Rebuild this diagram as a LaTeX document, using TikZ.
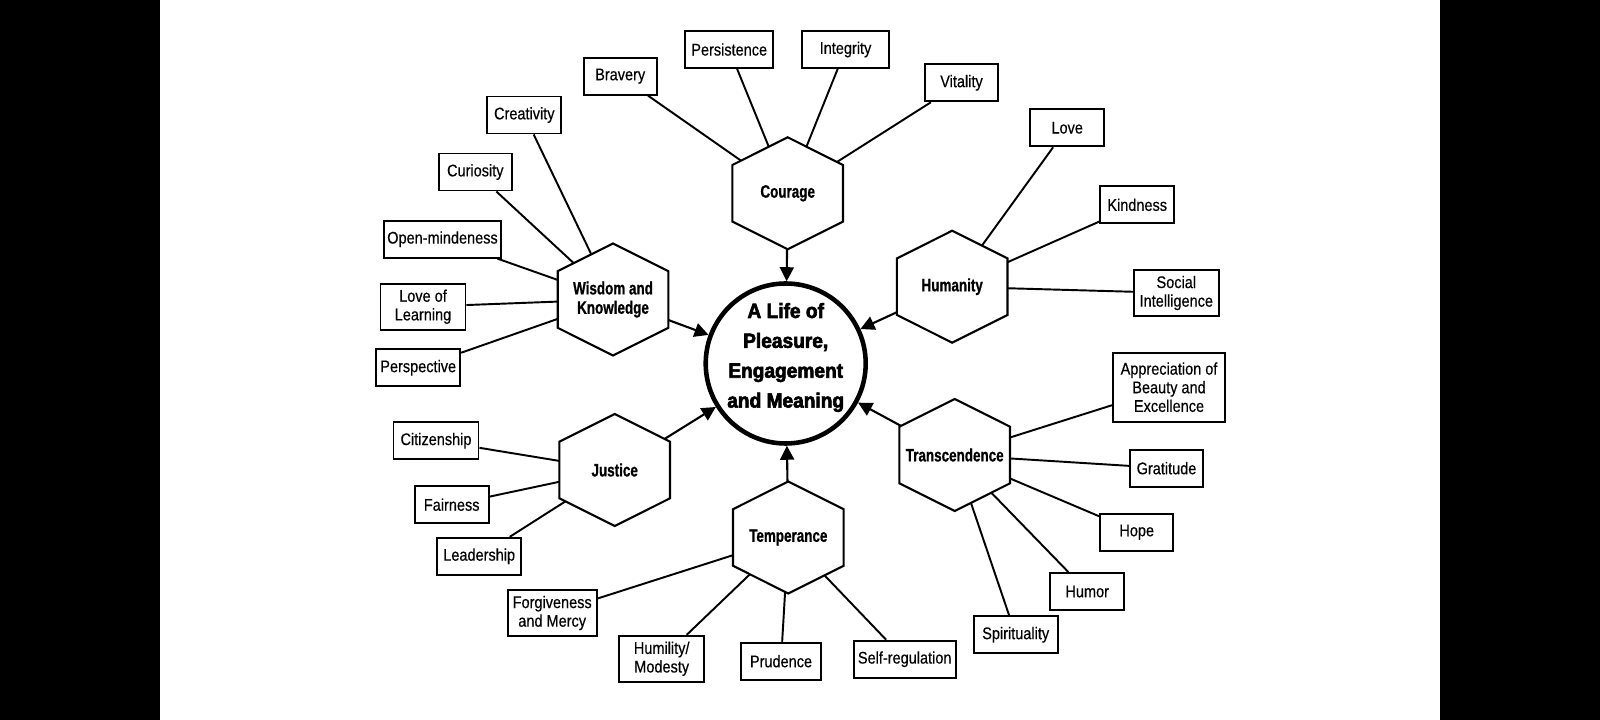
\documentclass[tikz,border=0pt]{standalone}
\usepackage{fontspec}
\usepackage{tikz}
\usetikzlibrary{positioning}
\usetikzlibrary{calc,arrows.meta}

\newfontfamily\boxfont{Liberation Sans}[FakeStretch=0.86, FakeBold=0.4]
\newfontfamily\hexfont{Liberation Sans}[FakeStretch=0.75, FakeBold=0.8]
\newfontfamily\lifefont{Liberation Sans}[FakeStretch=0.93, FakeBold=3]

\tikzset{
	strength/.style={draw, line width=0.55pt, rectangle, inner sep=0pt, align=center,
		minimum height=0.37cm, font=\boxfont\fontsize{4.8}{5.3}\selectfont},
	branch/.style={line width=0.55pt},
	feeds/.style={line width=0.6pt, -{Triangle[length=0.14cm, width=0.14cm]}},
	hexline/.style={draw, fill=white, line width=0.6pt, line join=miter},
	virtuelabel/.style={inner sep=0pt, align=center, font=\hexfont\bfseries\fontsize{5.1}{5.5}\selectfont},
	lifering/.style={draw, circle, line width=1.3pt, minimum size=1.6cm, inner sep=0pt},
	lifetext/.style={inner sep=0pt, align=center, font=\lifefont\bfseries\fontsize{5.85}{8.5}\selectfont},
}

% hexagon round a named centre: name, label
\newcommand{\virtuehex}[2]{%
	\filldraw[hexline] (#1) +(0,-0.56) -- +(0.553,-0.283) -- +(0.553,0.283) -- +(0,0.56)
		-- +(-0.553,0.283) -- +(-0.553,-0.283) -- cycle;
	\node[virtuelabel] (#1Label) at (#1) {#2};
}

\begin{document}
\begin{tikzpicture}[x=1cm, y=-1cm]

	% ------------------------------------------------
	% Page frame with the dark side bands
	\useasboundingbox (0,0) rectangle (16,7.2);
	\fill[black] (0,0) rectangle (1.6,7.2);
	\fill[black] (14.4,0) rectangle (16,7.2);

	% ------------------------------------------------
	% Relevant coordinates
	\coordinate (Wisdom)        at (6.130,2.995);
	\coordinate (Courage)       at (7.877,1.933);
	\coordinate (Humanity)      at (9.522,2.867);
	\coordinate (Transcendence) at (9.547,4.550);
	\coordinate (Temperance)    at (7.883,5.375);
	\coordinate (Justice)       at (6.147,4.700);

	% ----------------
	% Strength boxes
	\node[strength, minimum width=0.74cm] (Creativity)    at (5.243,1.150) {Creativity};
	\node[strength, minimum width=0.73cm] (Curiosity)     at (4.753,1.720) {Curiosity};
	\node[strength, minimum width=1.17cm] (OpenMind)      at (4.425,2.392) {Open-mindeness};
	\node[strength, minimum width=0.85cm, minimum height=0.46cm] (LoveLearning) at (4.230,3.067) {Love of\\Learning};
	\node[strength, minimum width=0.84cm] (Perspective)   at (4.182,3.678) {Perspective};

	\node[strength, minimum width=0.73cm] (Bravery)       at (6.202,0.762) {Bravery};
	\node[strength, minimum width=0.88cm] (Persistence)   at (7.292,0.495) {Persistence};
	\node[strength, minimum width=0.87cm] (Integrity)     at (8.455,0.495) {Integrity};
	\node[strength, minimum width=0.73cm] (Vitality)      at (9.615,0.828) {Vitality};

	\node[strength, minimum width=0.74cm] (Love)          at (10.672,1.278) {Love};
	\node[strength, minimum width=0.74cm] (Kindness)      at (11.372,2.048) {Kindness};
	\node[strength, minimum width=0.85cm, minimum height=0.46cm] (SocialInt) at (11.763,2.930) {Social\\Intelligence};

	\node[strength, minimum width=1.12cm, minimum height=0.69cm] (Beauty) at (11.690,3.872) {Appreciation of\\Beauty and\\Excellence};
	\node[strength, minimum width=0.73cm] (Gratitude)     at (11.665,4.682) {Gratitude};
	\node[strength, minimum width=0.73cm] (Hope)          at (11.367,5.322) {Hope};
	\node[strength, minimum width=0.74cm] (Humor)         at (10.872,5.915) {Humor};
	\node[strength, minimum width=0.84cm] (Spirituality)  at (10.157,6.348) {Spirituality};

	\node[strength, minimum width=1.02cm] (SelfReg)       at (9.047,6.592) {Self-regulation};
	\node[strength, minimum width=0.80cm] (Prudence)      at (7.810,6.612) {Prudence};
	\node[strength, minimum width=0.85cm, minimum height=0.46cm] (Humility)    at (6.617,6.588) {Humility/\\Modesty};
	\node[strength, minimum width=0.89cm, minimum height=0.46cm] (Forgiveness) at (5.522,6.130) {Forgiveness\\and Mercy};

	\node[strength, minimum width=0.85cm] (Citizenship)   at (4.360,4.407) {Citizenship};
	\node[strength, minimum width=0.74cm] (Fairness)      at (4.517,5.047) {Fairness};
	\node[strength, minimum width=0.84cm] (Leadership)    at (4.792,5.563) {Leadership};

	% ----------------
	% Centre circle
	\node[lifering] (Life) at (7.857,3.635) {};
	\node[lifetext] (LifeText) at (7.857,3.575) {A Life of\\Pleasure,\\Engagement\\and Meaning};

	%%%%%%%%%%%%%%%%%%%%%%%%%%%%%%%%%%%%%%%%%
	% Branches (hidden inside the hexagons)
	\foreach \s in {Creativity, Curiosity, OpenMind, LoveLearning, Perspective}
		\draw[branch] (\s) -- (Wisdom);
	\foreach \s in {Bravery, Persistence, Integrity, Vitality}
		\draw[branch] (\s) -- (Courage);
	\foreach \s in {Love, Kindness, SocialInt}
		\draw[branch] (\s) -- (Humanity);
	\foreach \s in {Beauty, Gratitude, Hope, Humor, Spirituality}
		\draw[branch] (\s) -- (Transcendence);
	\foreach \s in {SelfReg, Prudence, Humility, Forgiveness}
		\draw[branch] (\s) -- (Temperance);
	\foreach \s in {Citizenship, Fairness, Leadership}
		\draw[branch] (\s) -- (Justice);

	% Arrows into the circle
	\foreach \v in {Wisdom, Courage, Humanity, Transcendence, Temperance, Justice}
		\draw[feeds] (\v) -- (Life);

	% ----------------
	% Hexagons
	\virtuehex{Wisdom}{Wisdom and\\Knowledge}
	\virtuehex{Courage}{Courage}
	\virtuehex{Humanity}{Humanity}
	\virtuehex{Transcendence}{Transcendence}
	\virtuehex{Temperance}{Temperance}
	\virtuehex{Justice}{Justice}

\end{tikzpicture}
\end{document}
